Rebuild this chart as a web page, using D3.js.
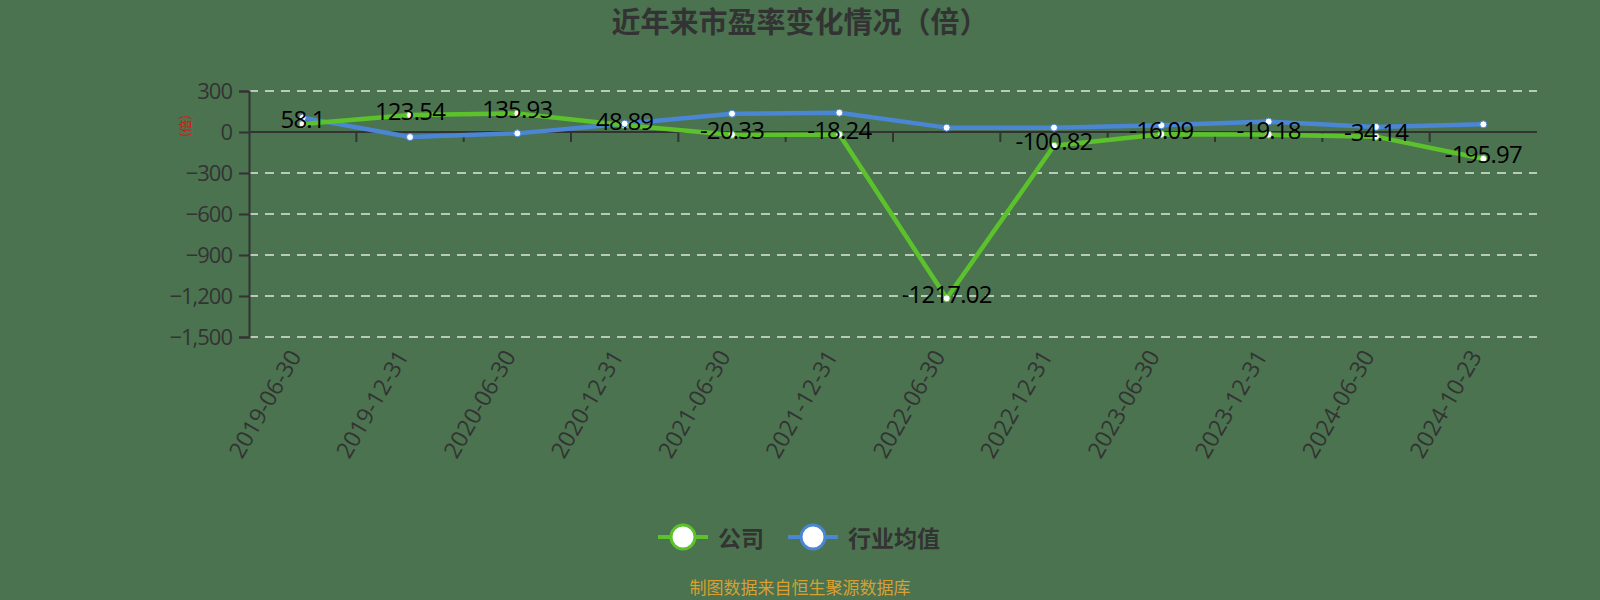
<!DOCTYPE html>
<html><head><meta charset="utf-8">
<script src="https://cdn.jsdelivr.net/npm/d3@7"></script>
<style>
html,body{margin:0;padding:0;background:#4b7350;}
svg{display:block;font-family:"Noto Sans CJK SC","Noto Sans",sans-serif;}
</style></head>
<body><svg id="c" width="1600" height="600"></svg>
<script>
const categories = ["2019-06-30","2019-12-31","2020-06-30","2020-12-31","2021-06-30","2021-12-31","2022-06-30","2022-12-31","2023-06-30","2023-12-31","2024-06-30","2024-10-23"];
const companyPE = [58.1,123.54,135.93,48.89,-20.33,-18.24,-1217.02,-100.82,-16.09,-19.18,-34.14,-195.97];
const industryPE = [105,-37,-10,61,134,141,32,32,49,76,37,56];
const yTicks = [300,0,-300,-600,-900,-1200,-1500];
const seriesNames = ["公司","行业均值"];
const title = "近年来市盈率变化情况（倍）";
const footer = "制图数据来自恒生聚源数据库";

(function(){
const svg = d3.select("#c");
const pL = 249, pR = 1537, pT = 91, pB = 337;
const green = "#5cc22c", blue = "#4a86d4";

const x = d3.scaleBand().domain(categories).range([pL, pR]);
const y = d3.scaleLinear().domain([-1500, 300]).range([pB, pT]);

svg.append("text").attr("x", 800).attr("y", 33).attr("text-anchor","middle")
  .attr("font-size", 29).attr("font-weight","bold").attr("fill","#333").text(title);

svg.append("g").selectAll("line").data(yTicks.filter(d=>d!==0)).join("line")
  .attr("x1", pL).attr("x2", pR).attr("y1", d=>y(d)).attr("y2", d=>y(d))
  .attr("stroke","#e0e6da").attr("stroke-width",1.5).attr("stroke-dasharray","9,7");

const yAxis = d3.axisLeft(y).tickValues(yTicks).tickSize(10).tickPadding(7).tickFormat(d3.format(","));
const gy = svg.append("g").attr("transform",`translate(${pL},0)`).call(yAxis);
gy.select(".domain").attr("stroke","#333").attr("stroke-width",2);
gy.selectAll(".tick line").attr("stroke","#333").attr("stroke-width",2);
gy.selectAll(".tick text").attr("font-size",22).attr("fill","#333")
  .attr("font-family","'Open Sans',sans-serif").attr("letter-spacing","-1");

svg.append("text").attr("transform",`translate(190,${y(0)-6}) rotate(-90)`)
  .attr("text-anchor","middle").attr("font-size",13).attr("fill","#e01010").text("(倍)");

const xAxis = d3.axisBottom(x).tickSize(10).tickFormat("");
const gx = svg.append("g").attr("transform",`translate(0,${y(0)})`).call(xAxis);
gx.select(".domain").attr("stroke","#333").attr("stroke-width",2).attr("d",`M${pL},0H${pR}`);
gx.selectAll(".tick line").attr("stroke","#333").attr("stroke-width",2)
  .attr("transform",`translate(${x.bandwidth()/2},0)`);
gx.selectAll(".tick").filter((d,i)=>i===categories.length-1).select("line").remove();

svg.append("g").selectAll("text").data(categories).join("text")
  .attr("transform", d=>`translate(${x(d)+x.bandwidth()/2-6},${pB+16}) rotate(-60)`)
  .attr("text-anchor","end").attr("dominant-baseline","middle")
  .attr("font-size",23).attr("fill","#333").attr("font-family","'Open Sans',sans-serif").text(d=>d);

const cx = d => x(d)+x.bandwidth()/2;
const line = d3.line().x((d,i)=>cx(categories[i])).y(d=>y(d));

svg.append("path").datum(industryPE).attr("d",line).attr("fill","none")
  .attr("stroke",blue).attr("stroke-width",4.5).attr("stroke-linejoin","round");
svg.append("path").datum(companyPE).attr("d",line).attr("fill","none")
  .attr("stroke",green).attr("stroke-width",4.5).attr("stroke-linejoin","round");

svg.append("g").selectAll("circle").data(companyPE).join("circle")
  .attr("cx",(d,i)=>cx(categories[i])).attr("cy",d=>y(d)).attr("r",3.5)
  .attr("fill","#fff").attr("stroke",green).attr("stroke-width",1);
svg.append("g").selectAll("circle").data(industryPE).join("circle")
  .attr("cx",(d,i)=>cx(categories[i])).attr("cy",d=>y(d)).attr("r",3.5)
  .attr("fill","#fff").attr("stroke",blue).attr("stroke-width",1);

svg.append("g").selectAll("text").data(companyPE).join("text")
  .attr("x",(d,i)=>cx(categories[i])).attr("y",d=>y(d)-2)
  .attr("text-anchor","middle").attr("dominant-baseline","middle")
  .attr("font-size",24).attr("fill","#000").attr("font-family","'Open Sans',sans-serif")
  .attr("letter-spacing","-0.8").text(d=>d);

const lg = svg.append("g");
const items = [{name:seriesNames[0],c:green,x:658},{name:seriesNames[1],c:blue,x:788}];
items.forEach(it=>{
  lg.append("line").attr("x1",it.x).attr("x2",it.x+50).attr("y1",537).attr("y2",537)
    .attr("stroke",it.c).attr("stroke-width",4);
  lg.append("circle").attr("cx",it.x+25).attr("cy",537).attr("r",12)
    .attr("fill","#fff").attr("stroke",it.c).attr("stroke-width",3);
  lg.append("text").attr("x",it.x+60).attr("y",537).attr("dominant-baseline","central")
    .attr("font-size",23).attr("fill","#333").attr("font-weight","bold").text(it.name);
});

svg.append("text").attr("x",800).attr("y",586).attr("text-anchor","middle").attr("dominant-baseline","central")
  .attr("font-size",17).attr("fill","#d9a030").text(footer);
})();
</script></body></html>
